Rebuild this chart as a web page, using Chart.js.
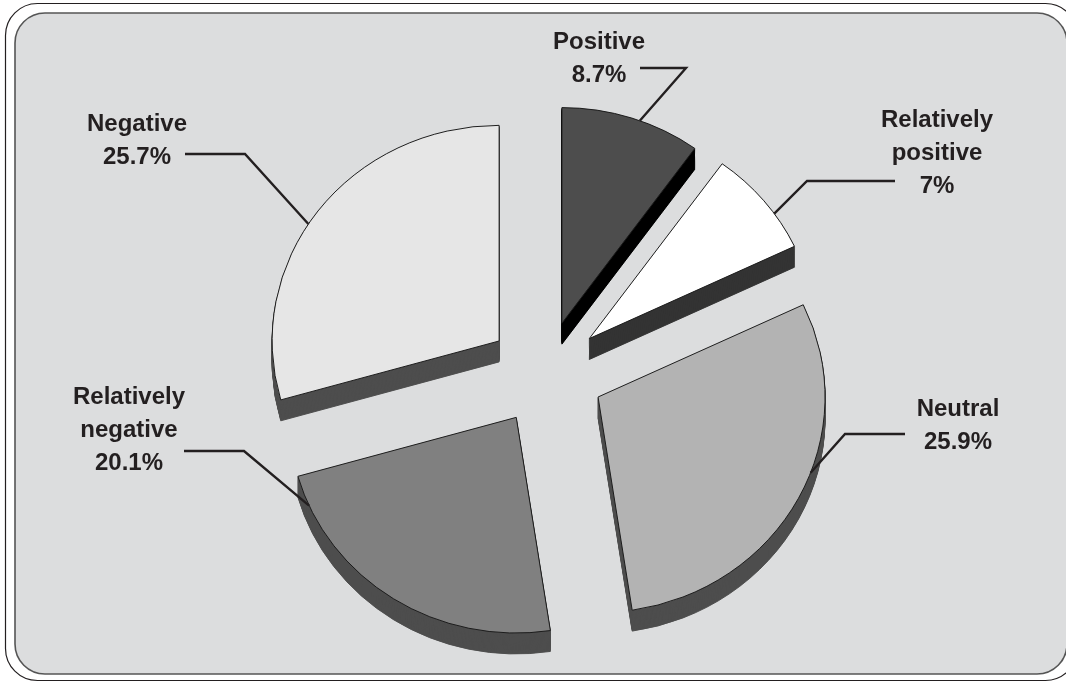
<!DOCTYPE html>
<html>
<head>
<meta charset="utf-8">
<title>Sentiment pie</title>
<script src="https://cdn.jsdelivr.net/npm/chart.js@4/dist/chart.umd.min.js"></script>
<style>
html, body { margin: 0; padding: 0; background: #fff; overflow: hidden; }
canvas { display: block; }
</style>
</head>
<body>
<canvas id="chart-pie" width="1066" height="682"></canvas>
<script>
const categories = [["Positive"], ["Relatively", "positive"], ["Neutral"], ["Relatively", "negative"], ["Negative"]];
const shares = [8.7, 7, 25.9, 20.1, 25.7];
const faceColors = ["#4d4d4d", "#ffffff", "#b3b3b3", "#808080", "#e6e6e6"];
const sideColors = ["#000000", "#333333", "#4d4d4d", "#4d4d4d", "#4d4d4d"];

// label layout: text centre x, first baseline y, leader end and elbow, spot on the rim (0-1 through the slice)
const labelSpots = [
    { x: 599, y: 49, end: [640, 68], elbow: [686, 68], rim: 0.56 },
    { x: 937, y: 127, end: [895, 181], elbow: [807, 181], rim: 0.65 },
    { x: 958, y: 416, end: [905, 434], elbow: [845, 434], rim: 0.43 },
    { x: 129, y: 404, end: [184, 451], elbow: [244, 451], rim: 0.90 },
    { x: 137, y: 131, end: [185, 154], elbow: [245, 154], rim: 0.46 }
];
// small per slice shift on top of the explode, the original slices are not quite even
const nudges = [[0, 1], [2, 0], [4.5, 0.5], [1, 1.5], [-2, 0.5]];

const SQUASH = 0.95;
const DEPTH = 22;
const EXPLODE = 55;

function sliceOffset(arc, i) {
    const mid = (arc.startAngle + arc.endAngle) / 2;
    return [Math.cos(mid) * EXPLODE + nudges[i][0], Math.sin(mid) * EXPLODE + nudges[i][1]];
}

function roundRect(ctx, x, y, w, h, r) {
    ctx.beginPath();
    ctx.roundRect(x, y, w, h, r);
}

const framePlugin = {
    id: "frame",
    beforeDraw(chart) {
        const ctx = chart.ctx;
        ctx.save();
        ctx.fillStyle = "#ffffff";
        ctx.fillRect(0, 0, chart.width, chart.height);
        roundRect(ctx, 5.5, 3.5, 1072, 677, 32);
        ctx.strokeStyle = "#231f20";
        ctx.lineWidth = 1.2;
        ctx.stroke();
        roundRect(ctx, 15, 13, 1052, 661, 30);
        ctx.fillStyle = "#dcddde";
        ctx.fill();
        ctx.strokeStyle = "#555555";
        ctx.lineWidth = 1.6;
        ctx.stroke();
        ctx.restore();
    }
};

// extruded pie: each arc element is drawn by the library, moved and repeated for the side wall
const pie3dPlugin = {
    id: "pie3d",
    beforeDatasetsDraw(chart) {
        const ctx = chart.ctx;
        const arcs = chart.getDatasetMeta(0).data;
        ctx.save();
        ctx.translate(arcs[0].x, arcs[0].y);
        ctx.scale(1, SQUASH);
        ctx.translate(-arcs[0].x, -arcs[0].y);
        arcs.forEach(function (arc, i) {
            const off = sliceOffset(arc, i);
            const saved = arc.options;
            arc.options = Object.create(saved);
            arc.options.backgroundColor = sideColors[i];
            arc.options.borderColor = sideColors[i];
            for (let d = DEPTH; d > 0; d--) {
                ctx.save();
                ctx.translate(off[0], off[1] + d);
                arc.draw(ctx);
                ctx.restore();
            }
            arc.options = saved;
        });
        arcs.forEach(function (arc, i) {
            const off = sliceOffset(arc, i);
            ctx.save();
            ctx.translate(off[0], off[1]);
            arc.draw(ctx);
            ctx.restore();
        });
        ctx.restore();
        return false;
    },
    afterDraw(chart) {
        const ctx = chart.ctx;
        const arcs = chart.getDatasetMeta(0).data;
        ctx.save();
        arcs.forEach(function (arc, i) {
            const spot = labelSpots[i];
            const off = sliceOffset(arc, i);
            const a = arc.startAngle + (arc.endAngle - arc.startAngle) * spot.rim;
            const rimX = arc.x + off[0] + Math.cos(a) * arc.outerRadius;
            const rimY = arc.y + (off[1] + Math.sin(a) * arc.outerRadius) * SQUASH;

            ctx.beginPath();
            ctx.moveTo(spot.end[0], spot.end[1]);
            ctx.lineTo(spot.elbow[0], spot.elbow[1]);
            ctx.lineTo(rimX, rimY);
            ctx.strokeStyle = "#231f20";
            ctx.lineWidth = 2.4;
            ctx.stroke();

            ctx.fillStyle = "#231f20";
            ctx.font = "bold 24px 'Liberation Sans'";
            ctx.textAlign = "center";
            ctx.textBaseline = "alphabetic";
            const lines = categories[i].concat(shares[i] + "%");
            lines.forEach(function (line, n) {
                ctx.fillText(line, spot.x, spot.y + n * 33);
            });
        });
        ctx.restore();
    }
};

const ctxPie = document.getElementById("chart-pie").getContext("2d");
const chartPie = new Chart(ctxPie, {
    type: "pie",
    data: {
        labels: categories.map(function (c) { return c.join(" "); }),
        datasets: [
            {
                data: shares,
                backgroundColor: faceColors,
                borderColor: "#1a1a1a",
                borderWidth: 1,
                radius: 227
            }
        ]
    },
    options: {
        responsive: false,
        animation: false,
        events: [],
        layout: { padding: { left: 24, top: 62 } },
        plugins: { legend: { display: false }, tooltip: { enabled: false }, title: { display: false } }
    },
    plugins: [framePlugin, pie3dPlugin]
});
</script>
</body>
</html>
